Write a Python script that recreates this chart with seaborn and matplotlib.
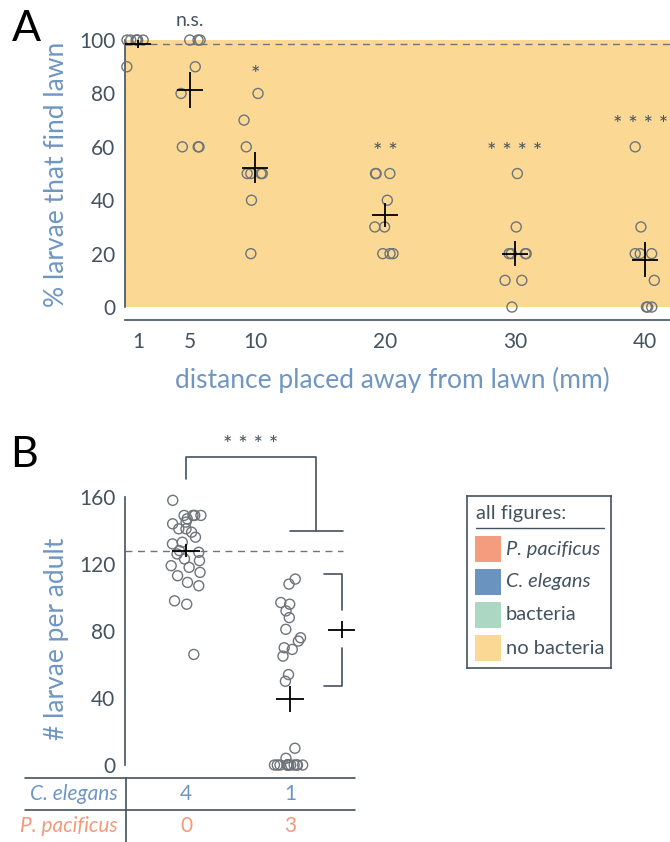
import numpy as np
import pandas as pd
import matplotlib
matplotlib.use('Agg')
import matplotlib.pyplot as plt
import seaborn as sns
from matplotlib.lines import Line2D
from matplotlib.patches import Rectangle
from matplotlib.transforms import blended_transform_factory

# === Data: panel A (% larvae that find lawn, by start distance) ===
distances = [1, 5, 10, 20, 30, 40]
pct_1mm = [100, 100, 100, 100, 100, 100, 90]
pct_5mm = [100, 100, 100, 90, 80, 60, 60, 60]
pct_10mm = [80, 70, 60, 50, 50, 50, 50, 40, 20]
pct_20mm = [50, 50, 50, 40, 30, 30, 20, 20, 20]
pct_30mm = [50, 30, 20, 20, 20, 20, 10, 10, 0]
pct_40mm = [60, 30, 20, 20, 20, 10, 0, 0, 0]
sig_a = ['', 'n.s.', '*', '* *', '* * * *', '* * * *']

# === Data: panel B (larvae per adult) ===
groups_b = ['4 C. elegans', '1 C. elegans + 3 P. pacificus']
ce_larvae = [158, 149, 149, 149, 149, 147, 145, 144, 141, 141, 139, 136, 133, 132,
             128, 127, 126, 123, 122, 119, 118, 115, 113, 109, 107, 98, 96, 66]
mix_larvae = [111, 108, 97, 96, 92, 88, 81, 76, 74, 70, 69, 65, 54, 50, 10, 4,
              0, 0, 0, 0, 0, 0, 0, 0, 0, 0, 0, 0, 0]
ce_counts = [4, 1]
pp_counts = [0, 3]
sig_b = '* * * *'

# legend
legend_labels = ['P. pacificus', 'C. elegans', 'bacteria', 'no bacteria']
legend_colors = ['#f39c7e', '#6b93bf', '#acd8c3', '#fbd995']

SLATE = '#43535f'
BLUE = '#6f96c3'
SALMON = '#f29a7b'
ORANGE = '#fbd995'
GRAY = '#6e7479'

sns.set_style('white')
plt.rcParams['font.family'] = ['Lato', 'DejaVu Sans']

W, H = 670, 842
fig = plt.figure(figsize=(W / 100, H / 100), dpi=100)


def px(x0, y_top, x1, y_bot):
    return [x0 / W, 1 - y_bot / H, (x1 - x0) / W, (y_bot - y_top) / H]


# === Panel A ===
ax = fig.add_axes(px(125, 13.35, 670, 320.4))
pct_groups = [pct_1mm, pct_5mm, pct_10mm, pct_20mm, pct_30mm, pct_40mm]
df_a = pd.DataFrame({
    'distance': np.concatenate([[d] * len(v) for d, v in zip(distances, pct_groups)]),
    'pct': np.concatenate(pct_groups),
})
ax.axhspan(0, 100, color=ORANGE, lw=0, zorder=0)
np.random.seed(11)
sns.stripplot(data=df_a, x='distance', y='pct', native_scale=True, orient='x',
              jitter=0.22, size=7.2, color=GRAY, edgecolor=GRAY, linewidth=1.0, ax=ax)
for c in ax.collections:
    c.set_facecolor('none')
    c.set_edgecolor(GRAY)
    c.set_clip_on(False)

means_a = [np.mean(v) for v in pct_groups]
sems_a = [np.std(v, ddof=1) / np.sqrt(len(v)) for v in pct_groups]
ax.errorbar(distances, means_a, yerr=sems_a, xerr=1.0, fmt='none',
            ecolor='black', elinewidth=1.3, capsize=0, zorder=5)
ax.axhline(means_a[0], color=GRAY, ls=(0, (5, 4)), lw=1.0, zorder=2)

sig_y_a = [0, 107.5, 87, 58, 58, 68]
for d, s, yy in zip(distances, sig_a, sig_y_a):
    if s == 'n.s.':
        ax.text(d, yy, s, ha='center', va='center', fontsize=14, color=SLATE, clip_on=False)
    elif s and d == distances[-1]:
        # last label sits against the right edge of the figure
        ax.text(0.997, yy, s, transform=blended_transform_factory(ax.transAxes, ax.transData),
                ha='right', va='center', fontsize=16, color=SLATE)
    elif s:
        ax.text(d, yy, s, ha='center', va='center', fontsize=16, color=SLATE, clip_on=False)

ax.set_xlim(0, 41.92)
ax.set_ylim(-5, 110)
ax.set_xticks(distances)
ax.set_xticks([0], minor=True)
ax.set_yticks([0, 20, 40, 60, 80, 100])
for s in ['top', 'right']:
    ax.spines[s].set_visible(False)
ax.spines['left'].set_bounds(0, 100)
for s in ['left', 'bottom']:
    ax.spines[s].set_color(SLATE)
    ax.spines[s].set_linewidth(1.2)
ax.tick_params(axis='x', which='major', length=0, pad=8, labelsize=15, labelcolor=SLATE)
ax.tick_params(axis='x', which='minor', length=4, width=1.2, color=SLATE)
ax.tick_params(axis='y', length=4, width=1.2, color=SLATE, pad=3,
               labelsize=15, labelcolor=SLATE)
ax.set_xlabel('distance placed away from lawn (mm)', fontsize=19, color=BLUE)
ax.set_ylabel('% larvae that find lawn', fontsize=19, color=BLUE)
ax.xaxis.set_label_coords(0.49, -0.15)
ax.yaxis.set_label_coords(-0.103, 0.474)
fig.text(12 / W, 1 - 41 / H, 'A', fontsize=31, color='black', ha='left', va='baseline')

# === Panel B ===
axb = fig.add_axes(px(125, 430, 355, 778))
df_b = pd.DataFrame({
    'group': [groups_b[0]] * len(ce_larvae) + [groups_b[1]] * len(mix_larvae),
    'larvae': ce_larvae + mix_larvae,
})
np.random.seed(7)
sns.stripplot(data=df_b, x='group', y='larvae', order=groups_b, jitter=0.15,
              size=7.2, color=GRAY, edgecolor=GRAY, linewidth=1.0, ax=axb)
for c in axb.collections:
    c.set_facecolor('none')
    c.set_edgecolor(GRAY)
    c.set_clip_on(False)

mix_high = [v for v in mix_larvae if v > 20]
b_sets = [ce_larvae, mix_larvae, mix_high]
b_x = [0, 1, 1.5]
means_b = [np.mean(v) for v in b_sets]
sems_b = [np.std(v, ddof=1) / np.sqrt(len(v)) for v in b_sets]
axb.errorbar(b_x, means_b, yerr=sems_b, xerr=0.135, fmt='none',
             ecolor='black', elinewidth=1.3, capsize=0, zorder=5)
axb.hlines(means_b[0], -0.5865, 1.51, color=GRAY, ls=(0, (5, 4)), lw=1.0, zorder=2)

# significance bracket
top_y = 184
axb.plot([0, 0, 1.25, 1.25], [171, top_y, top_y, 139.7], color=SLATE, lw=1.2, clip_on=False)
axb.plot([1.0, 1.51], [139.7, 139.7], color=SLATE, lw=1.2, clip_on=False)
axb.text(0.625, 191, sig_b, ha='center', va='center', fontsize=16, color=SLATE)

# bracket around non-zero P. pacificus group
hi, lo, m = max(mix_high) + 3, min(mix_high) - 3, means_b[2]
axb.plot([1.327, 1.5, 1.5], [hi, hi, m + 12], color=SLATE, lw=1.2, clip_on=False)
axb.plot([1.327, 1.5, 1.5], [lo, lo, m - 11], color=SLATE, lw=1.2, clip_on=False)

axb.set_xlim(-0.5865, 1.625)
axb.set_ylim(-7.76, 200)
axb.set_yticks([0, 40, 80, 120, 160])
axb.set_xticks([])
axb.set_xlabel('')
for s in ['top', 'right', 'bottom']:
    axb.spines[s].set_visible(False)
axb.spines['left'].set_bounds(0, 160)
axb.spines['left'].set_color(SLATE)
axb.spines['left'].set_linewidth(1.2)
axb.tick_params(axis='y', length=4, width=1.2, color=SLATE, pad=3,
                labelsize=15, labelcolor=SLATE)
axb.set_ylabel('# larvae per adult', fontsize=19, color=BLUE)
axb.yaxis.set_label_coords(-0.243, 0.40)
fig.text(10 / W, 1 - 467 / H, 'B', fontsize=31, color='black', ha='left', va='baseline')

# table under panel B
for y in [778, 810]:
    fig.add_artist(Line2D([25 / W, 355 / W], [1 - y / H, 1 - y / H], color=SLATE, lw=1.2))
fig.add_artist(Line2D([126 / W, 126 / W], [1 - 778 / H, 0], color=SLATE, lw=1.2))
tb = blended_transform_factory(axb.transData, fig.transFigure)
fig.text(118 / W, 1 - 794 / H, 'C. elegans', ha='right', va='center', fontsize=15,
         style='italic', color=BLUE)
fig.text(118 / W, 1 - 826 / H, 'P. pacificus', ha='right', va='center', fontsize=15,
         style='italic', color=SALMON)
for i, (ce, pp) in enumerate(zip(ce_counts, pp_counts)):
    axb.text(i, 1 - 794 / H, str(ce), transform=tb, ha='center', va='center',
             fontsize=15, color=BLUE)
    axb.text(i, 1 - 826 / H, str(pp), transform=tb, ha='center', va='center',
             fontsize=15, color=SALMON)

# === Legend box ===
axl = fig.add_axes(px(467, 496, 611, 668))
axl.set_xlim(467, 611)
axl.set_ylim(668, 496)
axl.set_xticks([])
axl.set_yticks([])
for s in axl.spines.values():
    s.set_color(SLATE)
    s.set_linewidth(1.2)
axl.text(476, 513, 'all figures:', ha='left', va='center', fontsize=14.5, color=SLATE)
axl.plot([476, 604], [528, 528], color=SLATE, lw=1.0)
for i, (lab, col) in enumerate(zip(legend_labels, legend_colors)):
    yc = 549 + i * 33
    axl.add_patch(Rectangle((475, yc - 13), 26, 26, color=col, lw=0))
    axl.text(506, yc, lab, ha='left', va='center', fontsize=14.5, color=SLATE,
             style='italic' if i < 2 else 'normal')

fig.savefig('out.png', dpi=100)
